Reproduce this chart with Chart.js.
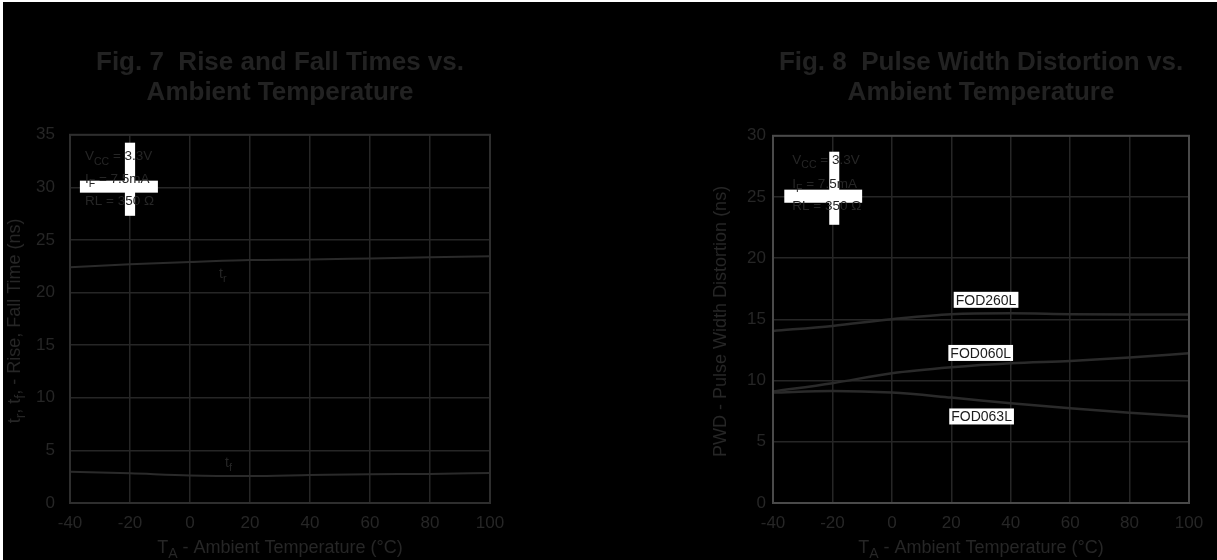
<!DOCTYPE html>
<html>
<head>
<meta charset="utf-8">
<title>Fig. 7 / Fig. 8</title>
<script src="https://cdn.jsdelivr.net/npm/chart.js@4.4.1/dist/chart.umd.min.js"></script>
<style>
  html, body { margin: 0; padding: 0; width: 1217px; height: 560px; overflow: hidden; background: #fff; }
  #sheet { position: absolute; left: 3px; top: 2px; right: 0; bottom: 0; background: #000; }
  canvas { position: absolute; top: 2px; }
  #fig7 { left: 4px; }
  #fig8 { left: 700px; }
</style>
</head>
<body>
<div id="sheet"></div>
<canvas id="fig7" width="554" height="558"></canvas>
<canvas id="fig8" width="546" height="558"></canvas>
<script>
// ambient temperature (°C), same for both figures
const temps = [-40, -20, 0, 20, 40, 60, 80, 100];
const tempTicks = [-40, -20, 0, 20, 40, 60, 80, 100];

// Fig. 7 - rise / fall time (ns)
const riseTime = [22.4, 22.7, 22.9, 23.1, 23.15, 23.25, 23.35, 23.45];
const fallTime = [2.98, 2.82, 2.62, 2.57, 2.66, 2.74, 2.76, 2.85];
const fig7Ticks = [0, 5, 10, 15, 20, 25, 30, 35];

// Fig. 8 - pulse width distortion (ns)
const pwdFOD260L = [14.06, 14.47, 15.02, 15.43, 15.5, 15.43, 15.4, 15.4];
const pwdFOD060L = [9.1, 9.79, 10.6, 11.09, 11.42, 11.61, 11.88, 12.24];
const pwdFOD063L = [9.02, 9.16, 9.02, 8.61, 8.15, 7.74, 7.38, 7.06];
const fig8Ticks = [0, 5, 10, 15, 20, 25, 30];

const FONT = '"Liberation Sans", Arial, Helvetica, sans-serif';
const INK = "#262626";
const GRID = "#262626";

const toPoints = (ys) => temps.map((t, i) => ({ x: t, y: ys[i] }));

// text with subscript pieces: parts = [[text], [text, 1], ...]
function drawRich(ctx, parts, x, y, size, align, baseline) {
  const subSize = size * 0.78;
  let total = 0;
  const widths = parts.map(([t, sub]) => {
    ctx.font = `${sub ? subSize : size}px ${FONT}`;
    const w = ctx.measureText(t).width;
    total += w;
    return w;
  });
  let cx = align === "center" ? x - total / 2 : x;
  ctx.textAlign = "left";
  ctx.textBaseline = baseline || "alphabetic";
  parts.forEach(([t, sub], i) => {
    ctx.font = `${sub ? subSize : size}px ${FONT}`;
    ctx.fillText(t, cx, sub ? y + size * 0.33 : y);
    cx += widths[i];
  });
}

// frame, white patches, notes and axis titles
function sheetExtras(cfg) {
  return {
    id: "sheetExtras",
    afterDraw(chart) {
      const { ctx, chartArea: a } = chart;
      const sx = chart.scales.x;
      const sy = chart.scales.y;
      ctx.save();

      ctx.strokeStyle = cfg.frame;
      ctx.lineWidth = 2;
      ctx.strokeRect(a.left, a.top, a.right - a.left, a.bottom - a.top);

      ctx.fillStyle = "#fff";
      cfg.patches.forEach((p) => {
        const x0 = sx.getPixelForValue(p.x0);
        const x1 = sx.getPixelForValue(p.x1);
        const y0 = sy.getPixelForValue(p.y0);
        const y1 = sy.getPixelForValue(p.y1);
        ctx.fillRect(Math.min(x0, x1), Math.min(y0, y1), Math.abs(x1 - x0), Math.abs(y1 - y0));
      });

      ctx.fillStyle = INK;
      cfg.notes.forEach((n) => {
        drawRich(ctx, n.parts, sx.getPixelForValue(n.x), sy.getPixelForValue(n.y), n.size || 13.5, "left");
      });

      // series names in white boxes
      (cfg.boxed || []).forEach((b) => {
        const label = chart.data.datasets[b.dataset].label;
        const px = sx.getPixelForValue(b.x);
        const py = sy.getPixelForValue(b.y);
        ctx.font = `14px ${FONT}`;
        const w = ctx.measureText(label).width + 4;
        ctx.fillStyle = "#fff";
        ctx.fillRect(px - w / 2, py - 8, w, 16);
        ctx.fillStyle = "#1c1c1c";
        ctx.textAlign = "center";
        ctx.textBaseline = "middle";
        ctx.fillText(label, px, py + 1);
      });

      ctx.fillStyle = INK;
      drawRich(ctx, cfg.xTitle, (a.left + a.right) / 2, a.bottom + 45, 18, "center", "middle");

      ctx.translate(cfg.yTitleX, (a.top + a.bottom) / 2 + 2);
      ctx.rotate(-Math.PI / 2);
      drawRich(ctx, cfg.yTitle, 0, 0, 18, "center", "middle");
      ctx.restore();
    },
  };
}

function scalesFor(yTicks, yWidth, yPad) {
  return {
    x: {
      type: "linear",
      min: -40,
      max: 100,
      afterBuildTicks: (s) => { s.ticks = tempTicks.map((v) => ({ value: v })); },
      afterFit: (s) => { s.height = 57; },
      grid: { color: GRID, lineWidth: 1.5, drawTicks: false },
      border: { display: false },
      ticks: { color: INK, font: { family: FONT, size: 17 }, padding: 10, maxRotation: 0, autoSkip: false },
    },
    y: {
      type: "linear",
      min: yTicks[0],
      max: yTicks[yTicks.length - 1],
      afterBuildTicks: (s) => { s.ticks = yTicks.map((v) => ({ value: v })); },
      afterFit: (s) => { s.width = yWidth; },
      grid: { color: GRID, lineWidth: 1.5, drawTicks: false },
      border: { display: false },
      ticks: { color: INK, font: { family: FONT, size: 17 }, padding: yPad, autoSkip: false },
    },
  };
}

const lineStyle = {
  borderColor: "#2a2a2a",
  borderWidth: 2.5,
  pointRadius: 0,
  fill: false,
  cubicInterpolationMode: "monotone",
};

const titleFont = { family: FONT, size: 26, weight: "bold", lineHeight: 1.15 };

// title box spans only the plot width, so it is centred over the grid
new Chart(document.getElementById("fig7"), {
  type: "line",
  data: {
    datasets: [
      { ...lineStyle, borderWidth: 2, label: "tr", data: toPoints(riseTime) },
      { ...lineStyle, borderWidth: 2, label: "tf", data: toPoints(fallTime) },
    ],
  },
  options: {
    responsive: false,
    animation: false,
    layout: { padding: { left: 0, right: 68, top: 0, bottom: 0 } },
    scales: scalesFor(fig7Ticks, 66, 15),
    plugins: {
      legend: { display: false },
      tooltip: { enabled: false },
      title: {
        display: true,
        fullSize: false,
        text: ["Fig. 7  Rise and Fall Times vs.", "Ambient Temperature"],
        color: "#222",
        font: titleFont,
        padding: { top: 46, bottom: 27 },
      },
    },
  },
  plugins: [
    sheetExtras({
      frame: "#2e2e2e",
      patches: [
        { x0: -21.7, x1: -18.3, y0: 34.25, y1: 27.3 },
        { x0: -36.7, x1: -10.7, y0: 30.64, y1: 29.5 },
      ],
      notes: [
        { x: -35, y: 32.6, parts: [["V"], ["CC", 1], [" = 3.3V"]] },
        { x: -35, y: 30.45, parts: [["I"], ["F", 1], [" = 7.5mA"]] },
        { x: -35, y: 28.35, parts: [["RL = 350 Ω"]] },
        { x: 9.7, y: 21.4, size: 14, parts: [["t"], ["r", 1]] },
        { x: 11.7, y: 3.45, size: 14, parts: [["t"], ["f", 1]] },
      ],
      xTitle: [["T"], ["A", 1], [" - Ambient Temperature (°C)"]],
      yTitle: [["t"], ["r", 1], [", t"], ["f", 1], [", - Rise, Fall Time (ns)"]],
      yTitleX: 11,
    }),
  ],
});

new Chart(document.getElementById("fig8"), {
  type: "line",
  data: {
    datasets: [
      { ...lineStyle, label: "FOD260L", data: toPoints(pwdFOD260L) },
      { ...lineStyle, label: "FOD060L", data: toPoints(pwdFOD060L) },
      { ...lineStyle, label: "FOD063L", data: toPoints(pwdFOD063L) },
    ],
  },
  options: {
    responsive: false,
    animation: false,
    layout: { padding: { left: 0, right: 57, top: 0, bottom: 0 } },
    scales: scalesFor(fig8Ticks, 73, 7),
    plugins: {
      legend: { display: false },
      tooltip: { enabled: false },
      title: {
        display: true,
        fullSize: false,
        text: ["Fig. 8  Pulse Width Distortion vs.", "Ambient Temperature"],
        color: "#222",
        font: titleFont,
        padding: { top: 46, bottom: 28 },
      },
    },
  },
  plugins: [
    sheetExtras({
      frame: "#4a4a4a",
      patches: [
        { x0: -21.07, x1: -17.7, y0: 28.7, y1: 22.73 },
        { x0: -36.2, x1: -10.0, y0: 25.6, y1: 24.53 },
      ],
      notes: [
        { x: -33.5, y: 27.7, parts: [["V"], ["CC", 1], [" = 3.3V"]] },
        { x: -33.5, y: 25.75, parts: [["I"], ["F", 1], [" = 7.5mA"]] },
        { x: -33.5, y: 23.95, parts: [["RL = 350 Ω"]] },
      ],
      boxed: [
        { dataset: 0, x: 31.7, y: 16.6 },
        { dataset: 1, x: 29.9, y: 12.26 },
        { dataset: 2, x: 30.2, y: 7.07 },
      ],
      xTitle: [["T"], ["A", 1], [" - Ambient Temperature (°C)"]],
      yTitle: [["PWD - Pulse Width Distortion (ns)"]],
      yTitleX: 21,
    }),
  ],
});
</script>
</body>
</html>
